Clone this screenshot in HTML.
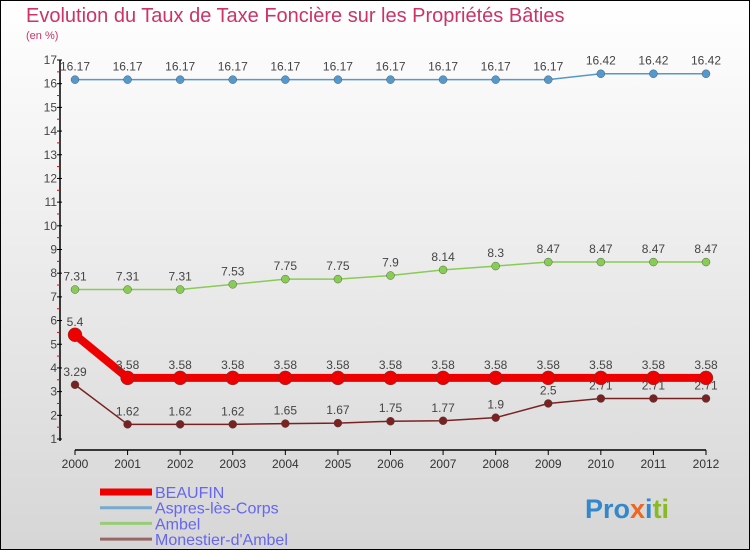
<!DOCTYPE html>
<html><head><meta charset="utf-8"><style>
body{margin:0}
#c{width:750px;height:550px;position:relative;overflow:hidden}
text{font-family:"Liberation Sans",sans-serif}
</style></head><body>
<div id="c">
<svg id="s" width="750" height="550" xmlns="http://www.w3.org/2000/svg">
<defs><linearGradient id="bg" x1="0" y1="0" x2="0" y2="1"><stop offset="0" stop-color="#ffffff"/><stop offset="1" stop-color="#d6d6d6"/></linearGradient></defs>
<rect x="0.5" y="0.5" width="749" height="549" fill="url(#bg)" stroke="#000"/>
<text x="26" y="22" font-size="20" fill="#cc3366">Evolution du Taux de Taxe Foncière sur les Propriétés Bâties</text>
<text x="26" y="39" font-size="11" fill="#cc3366">(en %)</text>
<g id="axes"></g><g id="series"></g><g id="legend"></g>
<text x="585" y="518" font-size="27" font-weight="bold"><tspan fill="#3388cc">Pro</tspan><tspan fill="#ee6622">x</tspan><tspan fill="#3388cc">i</tspan><tspan fill="#88bb22">ti</tspan></text>
</svg></div>
<script>
const years=[2000,2001,2002,2003,2004,2005,2006,2007,2008,2009,2010,2011,2012];
const beaufin=[5.4,3.58,3.58,3.58,3.58,3.58,3.58,3.58,3.58,3.58,3.58,3.58,3.58];
const aspres=[16.17,16.17,16.17,16.17,16.17,16.17,16.17,16.17,16.17,16.17,16.42,16.42,16.42];
const ambel=[7.31,7.31,7.31,7.53,7.75,7.75,7.9,8.14,8.3,8.47,8.47,8.47,8.47];
const monestier=[3.29,1.62,1.62,1.62,1.65,1.67,1.75,1.77,1.9,2.5,2.71,2.71,2.71];
const yTicks=[1,2,3,4,5,6,7,8,9,10,11,12,13,14,15,16,17];
const NS='http://www.w3.org/2000/svg';
const X=i=>75+i*(706-75)/(years.length-1);
const Y=v=>439-(v-1)*(439-60)/16;
function mk(t,a,p){const e=document.createElementNS(NS,t);for(const k in a)e.setAttribute(k,a[k]);p.appendChild(e);return e;}
const ax=document.getElementById('axes');
let e=mk('line',{x1:60,y1:60,x2:60,y2:441,stroke:'#000','stroke-width':1.5},ax);


e=mk('line',{x1:75,y1:450,x2:706,y2:450,stroke:'#000','stroke-width':1.5},ax);


yTicks.forEach(v=>{
 mk('line',{x1:57,y1:Y(v),x2:62,y2:Y(v),stroke:'#000'},ax);
 if(v<17)mk('line',{x1:57,y1:Y(v+0.5),x2:60,y2:Y(v+0.5),stroke:'#e00'},ax);
 const t=mk('text',{x:57,y:Y(v)+4,'font-size':12,fill:'#444','text-anchor':'end'},ax);t.textContent=v;
 
 
});
years.forEach((y,i)=>{
 mk('line',{x1:X(i),y1:450,x2:X(i),y2:455,stroke:'#000'},ax);
 const t=mk('text',{x:X(i),y:468,'font-size':12,fill:'#333','text-anchor':'middle'},ax);t.textContent=y;
 
 
});
const sg=document.getElementById('series');
function series(vals,color,w,r,name){
 const g=mk('g',{},sg);
 
 
 mk('polyline',{points:vals.map((v,i)=>X(i)+','+Y(v)).join(' '),fill:'none',stroke:color,'stroke-width':w,'stroke-linejoin':'round'},g);
 vals.forEach((v,i)=>{
  const c=mk('circle',{cx:X(i),cy:Y(v),r:r,fill:color,stroke:'#444','stroke-width':0.4},g);
  
  
  const t=mk('text',{x:X(i),y:Y(v)-9,'font-size':12,fill:'#444','text-anchor':'middle'},g);t.textContent=v;
  
  
 });
}
series(aspres,'#5599cc',1.5,4,'aspres-series');
series(ambel,'#88cc55',1.5,4,'ambel-series');
series(monestier,'#7a2222',1.5,4,'monestier-series');
series(beaufin,'#ee0000',8,7,'beaufin-series');
const lg=document.getElementById('legend');
const names=['BEAUFIN','Aspres-lès-Corps','Ambel',"Monestier-d'Ambel"];
const cols=['#ee0000','#77aacc','#99cc77','#996666'];
const ws=[7,3,3,3];
names.forEach((n,i)=>{
 const y=492+i*15.7;
 const g=mk('g',{},lg);
 
 
 mk('line',{x1:100,y1:y,x2:152,y2:y,stroke:cols[i],'stroke-width':ws[i]},g);
 const t=mk('text',{x:155,y:y+6,'font-size':16,fill:'#6666ee'},g);t.textContent=n;
});
</script></body></html>
